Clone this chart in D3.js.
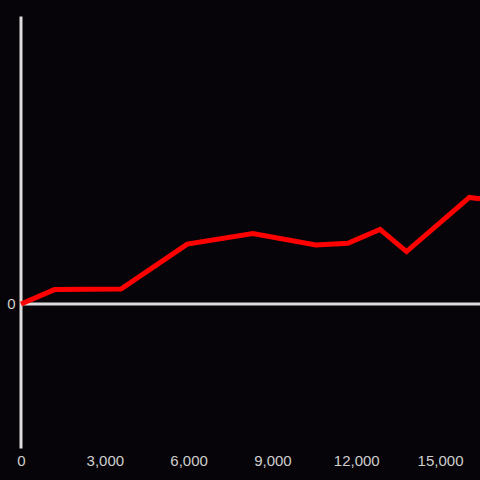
<!DOCTYPE html>
<html>
<head>
<meta charset="utf-8">
<script src="https://cdn.jsdelivr.net/npm/d3@7"></script>
<style>
  html, body { margin: 0; padding: 0; background: #060408; }
  svg { display: block; }
</style>
</head>
<body>
<svg id="chart" width="480" height="480"></svg>
<script>
// data
const xValues = [0, 1200, 3580, 5950, 8300, 10550, 11700, 12850, 13800, 16050, 16430];
const yValues = [0, 5.0, 5.2, 20.8, 24.5, 20.5, 21.1, 25.9, 18.2, 37.0, 36.5];
const xTicks = [0, 3000, 6000, 9000, 12000, 15000];
const yTicks = [0];

const width = 480;
const height = 480;
const axisColor = "#dcdcdc";
const textColor = "#cfcfcf";
const font = "15px 'Liberation Sans', Arial, sans-serif";

const svg = d3.select("#chart");

svg.append("rect")
  .attr("width", width)
  .attr("height", height)
  .attr("fill", "#060408");

const x = d3.scaleLinear().domain([0, 16430]).range([21, 480]);
const y = d3.scaleLinear().domain([-50, 100]).range([448, 16]);

// x tick labels along the bottom
const xAxis = svg.append("g")
  .attr("transform", "translate(0,448)")
  .call(d3.axisBottom(x).tickValues(xTicks).tickFormat(d3.format(",")).tickSize(0).tickPadding(7));
xAxis.select(".domain").remove();
xAxis.selectAll("text")
  .attr("fill", textColor)
  .style("font", font);

// y axis (vertical line with only the zero tick)
const yAxis = svg.append("g")
  .attr("transform", "translate(20.5,0)")
  .call(d3.axisLeft(y).tickValues(yTicks).tickFormat(d3.format(",")).tickSize(0).tickSizeOuter(0).tickPadding(5));
yAxis.select(".domain")
  .attr("stroke", axisColor)
  .attr("stroke-width", 3);
yAxis.selectAll("text")
  .attr("fill", textColor)
  .style("font", font);

// zero line
svg.append("line")
  .attr("x1", 20)
  .attr("x2", width)
  .attr("y1", y(0))
  .attr("y2", y(0))
  .attr("stroke", axisColor)
  .attr("stroke-width", 3);

const points = xValues.map((d, i) => [d, yValues[i]]);

svg.append("path")
  .datum(points)
  .attr("fill", "none")
  .attr("stroke", "#ff0000")
  .attr("stroke-width", 5)
  .attr("d", d3.line().x(d => x(d[0])).y(d => y(d[1])));
</script>
</body>
</html>
